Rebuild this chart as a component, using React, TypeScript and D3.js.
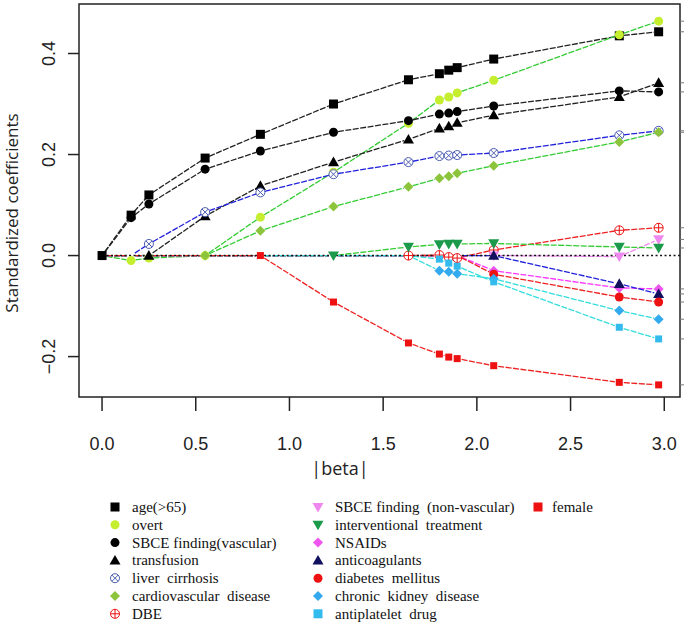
import React from 'react';
import * as d3 from 'd3';

// lasso / LARS steps (|beta| = L1 norm)
const steps = [0, 0.155, 0.25, 0.55, 0.845, 1.235, 1.635, 1.8, 1.85, 1.895, 2.09, 2.76, 2.97];
const xTicks = [0, 0.5, 1, 1.5, 2, 2.5, 3];
const yTicks = [-0.2, 0, 0.2, 0.4];

const ageValues = [0, 0.08, 0.12, 0.193, 0.24, 0.3, 0.348, 0.36, 0.367, 0.372, 0.389, 0.435, 0.443];
const overtValues = [0, -0.01, -0.005, 0, 0.076, 0.165, 0.262, 0.308, 0.314, 0.322, 0.347, 0.437, 0.464];
const vascularValues = [0, 0.075, 0.102, 0.171, 0.207, 0.244, 0.267, 0.28, 0.282, 0.285, 0.296, 0.326, 0.324];
const transfusionValues = [0, 0, 0, 0.078, 0.138, 0.185, 0.23, 0.252, 0.256, 0.263, 0.278, 0.314, 0.342];
const liverValues = [0, 0, 0.023, 0.086, 0.125, 0.161, 0.185, 0.197, 0.198, 0.199, 0.203, 0.238, 0.247];
const cardioValues = [0, 0, 0, 0, 0.049, 0.097, 0.136, 0.153, 0.157, 0.163, 0.178, 0.225, 0.244];
const dbeValues = [0, 0, 0, 0, 0, 0, 0, 0.001, -0.003, -0.005, 0.011, 0.05, 0.055];
const nonVascularValues = [0, 0, 0, 0, 0, 0, 0, 0, 0, 0, 0, -0.002, 0.032];
const interventionalValues = [0, 0, 0, 0, 0, 0, 0.017, 0.022, 0.023, 0.023, 0.024, 0.017, 0.015];
const nsaidValues = [0, 0, 0, 0, 0, 0, 0, 0, 0, 0, -0.03, -0.064, -0.066];
const anticoagValues = [0, 0, 0, 0, 0, 0, 0, 0, 0, 0, 0, -0.056, -0.076];
const diabetesValues = [0, 0, 0, 0, 0, 0, 0, 0, 0, 0, -0.037, -0.082, -0.092];
const ckdValues = [0, 0, 0, 0, 0, 0, 0, -0.03, -0.032, -0.036, -0.046, -0.109, -0.126];
const antiplateletValues = [0, 0, 0, 0, 0, 0, 0, -0.007, -0.015, -0.021, -0.052, -0.142, -0.165];
const femaleValues = [0, 0, 0, 0, 0, -0.092, -0.173, -0.195, -0.201, -0.204, -0.218, -0.251, -0.256];

type Shape = 'square' | 'circle' | 'triUp' | 'triDown' | 'diamond' | 'circleX' | 'circlePlus';

interface Series {
  name: string;
  values: number[];
  start: number;
  shape: Shape;
  color: string;
  line: string;
  size: number;
}

const series: Series[] = [
  { name: 'age(>65)', values: ageValues, start: 0, shape: 'square', color: '#000000', line: '#222222', size: 9 },
  { name: 'overt', values: overtValues, start: 1, shape: 'circle', color: '#c5ee2e', line: '#33cc33', size: 9 },
  { name: 'SBCE finding(vascular)', values: vascularValues, start: 1, shape: 'circle', color: '#000000', line: '#222222', size: 9 },
  { name: 'transfusion', values: transfusionValues, start: 2, shape: 'triUp', color: '#000000', line: '#222222', size: 10 },
  { name: 'liver  cirrhosis', values: liverValues, start: 2, shape: 'circleX', color: '#4a5cb0', line: '#2222dd', size: 10 },
  { name: 'cardiovascular  disease', values: cardioValues, start: 3, shape: 'diamond', color: '#8cc43c', line: '#33cc33', size: 10 },
  { name: 'DBE', values: dbeValues, start: 6, shape: 'circlePlus', color: '#ee1111', line: '#ee2222', size: 10 },
  { name: 'SBCE finding  (non-vascular)', values: nonVascularValues, start: 10, shape: 'triDown', color: '#ee88ee', line: '#ee82ee', size: 10 },
  { name: 'interventional  treatment', values: interventionalValues, start: 5, shape: 'triDown', color: '#1a9a4a', line: '#33cc33', size: 10 },
  { name: 'NSAIDs', values: nsaidValues, start: 10, shape: 'diamond', color: '#ee55ee', line: '#ff33ff', size: 10 },
  { name: 'anticoagulants', values: anticoagValues, start: 10, shape: 'triUp', color: '#10105e', line: '#2222dd', size: 10 },
  { name: 'diabetes  mellitus', values: diabetesValues, start: 10, shape: 'circle', color: '#ee1111', line: '#ee2222', size: 9 },
  { name: 'chronic  kidney  disease', values: ckdValues, start: 7, shape: 'diamond', color: '#33aaee', line: '#33dddd', size: 10 },
  { name: 'antiplatelet  drug', values: antiplateletValues, start: 7, shape: 'square', color: '#33bbee', line: '#33dddd', size: 7 },
  { name: 'female', values: femaleValues, start: 4, shape: 'square', color: '#ee1111', line: '#ee2222', size: 7 },
];

const legendCol1 = ['age(>65)', 'overt', 'SBCE finding(vascular)', 'transfusion', 'liver  cirrhosis', 'cardiovascular  disease', 'DBE'];
const legendCol2 = ['SBCE finding  (non-vascular)', 'interventional  treatment', 'NSAIDs', 'anticoagulants', 'diabetes  mellitus', 'chronic  kidney  disease', 'antiplatelet  drug'];
const legendCol3 = ['female'];

const W = 685;
const H = 624;
const box = { left: 79, right: 680, top: 4, bottom: 397 };

const x = d3.scaleLinear().domain([-0.123, 3.084]).range([box.left, box.right]);
const y = d3.scaleLinear().domain([-0.28, 0.498]).range([box.bottom, box.top]);

function Marker({ shape, cx, cy, size, color }: { shape: Shape; cx: number; cy: number; size: number; color: string }) {
  const h = size / 2;
  switch (shape) {
    case 'square':
      return <rect x={cx - h} y={cy - h} width={size} height={size} fill={color} />;
    case 'circle':
      return <circle cx={cx} cy={cy} r={h} fill={color} />;
    case 'triUp': {
      const t = h * 1.1;
      return <polygon points={`${cx},${cy - t} ${cx + t},${cy + t * 0.75} ${cx - t},${cy + t * 0.75}`} fill={color} />;
    }
    case 'triDown': {
      const t = h * 1.1;
      return <polygon points={`${cx},${cy + t} ${cx + t},${cy - t * 0.75} ${cx - t},${cy - t * 0.75}`} fill={color} />;
    }
    case 'diamond':
      return <polygon points={`${cx},${cy - h} ${cx + h},${cy} ${cx},${cy + h} ${cx - h},${cy}`} fill={color} />;
    case 'circleX': {
      const r = h - 0.5;
      const d = r * 0.707;
      return (
        <g stroke={color} strokeWidth={1} fill="white">
          <circle cx={cx} cy={cy} r={r} />
          <line x1={cx - d} y1={cy - d} x2={cx + d} y2={cy + d} />
          <line x1={cx - d} y1={cy + d} x2={cx + d} y2={cy - d} />
        </g>
      );
    }
    case 'circlePlus': {
      const r = h - 0.5;
      return (
        <g stroke={color} strokeWidth={1} fill="white">
          <circle cx={cx} cy={cy} r={r} />
          <line x1={cx - r} y1={cy} x2={cx + r} y2={cy} />
          <line x1={cx} y1={cy - r} x2={cx} y2={cy + r} />
        </g>
      );
    }
  }
  return null;
}

function segments(s: Series) {
  const gap = 4.5;
  const out: { x1: number; y1: number; x2: number; y2: number }[] = [];
  for (let i = 0; i < steps.length - 1; i++) {
    const x1 = x(steps[i]);
    const y1 = y(s.values[i]);
    const x2 = x(steps[i + 1]);
    const y2 = y(s.values[i + 1]);
    const d = Math.hypot(x2 - x1, y2 - y1);
    if (d <= gap * 2) continue;
    const ux = (x2 - x1) / d;
    const uy = (y2 - y1) / d;
    out.push({ x1: x1 + ux * gap, y1: y1 + uy * gap, x2: x2 - ux * gap, y2: y2 - uy * gap });
  }
  return out;
}

const tickFont = 'Liberation Sans Narrow, Liberation Sans, Arial, sans-serif';
const titleFont = 'Open Sans, Noto Sans, sans-serif';
const legendFont = 'Liberation Serif, DejaVu Serif, Times New Roman, serif';

export default function App() {
  const byName = new Map(series.map((s) => [s.name, s]));
  const legendRowY = (i: number) => 507 + i * 17.8;
  const legendCols = [
    { names: legendCol1, mx: 115, tx: 132 },
    { names: legendCol2, mx: 318, tx: 335 },
    { names: legendCol3, mx: 538, tx: 552 },
  ];

  return (
    <div style={{ position: 'absolute', left: 0, top: 0 }}>
      <svg width={W} height={H} style={{ display: 'block', background: 'white' }}>
        <rect x={0} y={0} width={W} height={H} fill="white" />

        {series.map((s) =>
          segments(s).map((g, i) => (
            <line key={s.name + 'l' + i} x1={g.x1} y1={g.y1} x2={g.x2} y2={g.y2} stroke={s.line} strokeWidth={1.3} strokeDasharray="6,1.5" />
          ))
        )}

        <line x1={x(0)} x2={box.right} y1={y(0)} y2={y(0)} stroke="#111" strokeWidth={1.6} strokeDasharray="2,2.5" />

        {series.map((s) =>
          s.values.map((v, i) =>
            i >= s.start ? <Marker key={s.name + 'm' + i} shape={s.shape} cx={x(steps[i])} cy={y(v)} size={s.size} color={s.color} /> : null
          )
        )}

        <rect x={box.left} y={box.top} width={box.right - box.left} height={box.bottom - box.top} fill="none" stroke="#222" strokeWidth={1.5} />

        {xTicks.map((t) => (
          <g key={'xt' + t}>
            <line x1={x(t)} x2={x(t)} y1={box.bottom} y2={box.bottom + 14} stroke="#222" strokeWidth={1.5} />
            <text x={x(t)} y={450} textAnchor="middle" style={{ fontFamily: tickFont, fontSize: 18 }} fill="#222">
              {d3.format('.1f')(t)}
            </text>
          </g>
        ))}
        <text x={340} y={475} textAnchor="middle" style={{ fontFamily: titleFont, fontSize: 18 }} fill="#222">
          |beta|
        </text>

        {yTicks.map((t) => (
          <g key={'yt' + t}>
            <line x1={box.left - 11} x2={box.left} y1={y(t)} y2={y(t)} stroke="#222" strokeWidth={1.5} />
            <text transform={`translate(55,${y(t)}) rotate(-90)`} textAnchor="middle" style={{ fontFamily: tickFont, fontSize: 18 }} fill="#222">
              {d3.format('.1f')(t)}
            </text>
          </g>
        ))}
        <text transform={`translate(18,213) rotate(-90)`} textAnchor="middle" style={{ fontFamily: titleFont, fontSize: 17 }} fill="#222">
          Standardized coefficients
        </text>

        {series.map((s) => (
          <line key={s.name + 'rt'} x1={box.right} x2={box.right + 4} y1={y(s.values[s.values.length - 1])} y2={y(s.values[s.values.length - 1])} stroke="#777" strokeWidth={1} />
        ))}

        {legendCols.map((col, ci) =>
          col.names.map((n, i) => {
            const s = byName.get(n)!;
            const ly = legendRowY(i);
            return (
              <g key={'lg' + ci + i}>
                <Marker shape={s.shape} cx={col.mx} cy={ly} size={s.shape === 'square' ? 9 : s.size} color={s.color} />
                <text x={col.tx} y={ly + 5} style={{ fontFamily: legendFont, fontSize: 15, whiteSpace: 'pre' }} fill="#111">
                  {n}
                </text>
              </g>
            );
          })
        )}
      </svg>
    </div>
  );
}
